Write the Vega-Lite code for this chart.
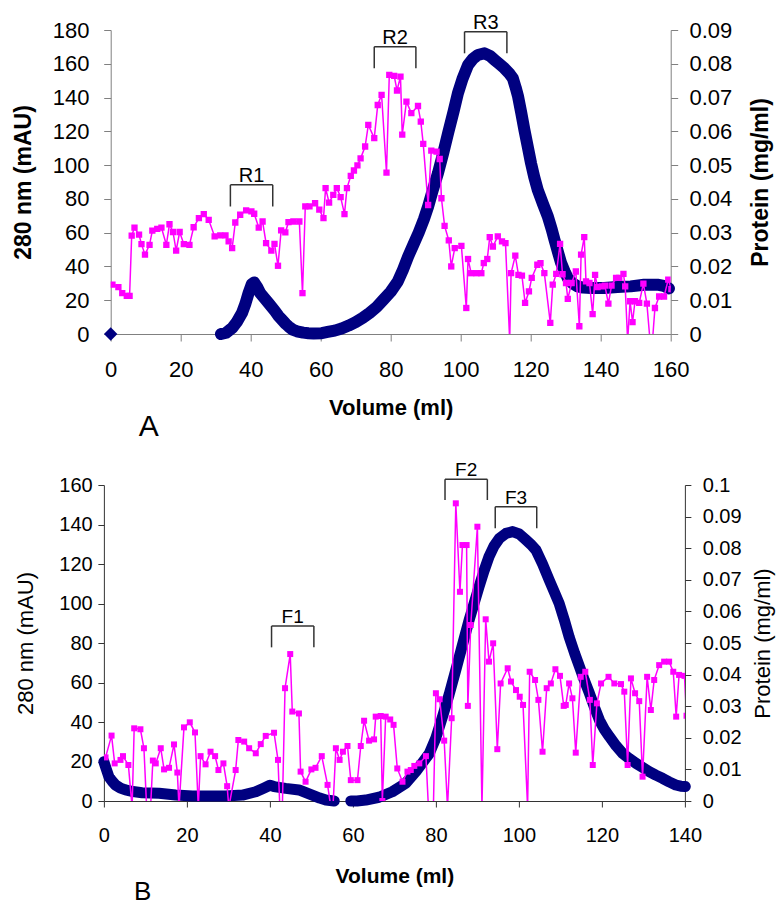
{
"$schema":"https://vega.github.io/schema/vega-lite/v6.json",
"background":"white",
"padding":{"left":12.5,"top":12,"right":0,"bottom":0},
"config":{"view":{"stroke":null},"font":"Liberation Sans","axis":{"labelColor":"#000","titleColor":"#000","labelFont":"Liberation Sans","titleFont":"Liberation Sans","grid":false,"labelOverlap":false}},
"datasets":{
"blueA":[{"volume":31.5,"mau":0},{"volume":33,"mau":0.8},{"volume":34.7,"mau":3.5},{"volume":36,"mau":7},{"volume":37.5,"mau":12.4},{"volume":38.5,"mau":18},{"volume":39.4,"mau":24.3},{"volume":40.3,"mau":29.5},{"volume":41,"mau":30.5},{"volume":41.8,"mau":28},{"volume":42.7,"mau":24.3},{"volume":44,"mau":21},{"volume":45.1,"mau":18.3},{"volume":46,"mau":16},{"volume":47,"mau":13.4},{"volume":48,"mau":10.5},{"volume":48.9,"mau":8.5},{"volume":50,"mau":6},{"volume":50.8,"mau":4.5},{"volume":52,"mau":2.6},{"volume":53.2,"mau":1.6},{"volume":55,"mau":0.8},{"volume":56.5,"mau":0.5},{"volume":58,"mau":0.3},{"volume":60.3,"mau":0.5},{"volume":62,"mau":1.2},{"volume":64,"mau":2},{"volume":66,"mau":3.3},{"volume":68,"mau":5},{"volume":70,"mau":7},{"volume":72,"mau":9.5},{"volume":74,"mau":12.5},{"volume":76,"mau":16},{"volume":78,"mau":20.5},{"volume":80,"mau":25},{"volume":82,"mau":31},{"volume":83.5,"mau":38},{"volume":85,"mau":46},{"volume":86.5,"mau":53},{"volume":88,"mau":60},{"volume":89.5,"mau":68},{"volume":90.7,"mau":75.5},{"volume":92,"mau":85},{"volume":93.5,"mau":95.2},{"volume":95,"mau":107},{"volume":96.4,"mau":118.9},{"volume":98,"mau":132},{"volume":99.2,"mau":142.5},{"volume":100.5,"mau":151},{"volume":102.1,"mau":159.3},{"volume":103.5,"mau":163},{"volume":104.9,"mau":165.2},{"volume":106.8,"mau":166.2},{"volume":108.5,"mau":164.5},{"volume":109.7,"mau":162.3},{"volume":111,"mau":160},{"volume":112.5,"mau":157.3},{"volume":114,"mau":154},{"volume":114.9,"mau":151.4},{"volume":115.7,"mau":146},{"volume":116.4,"mau":140.6},{"volume":117.3,"mau":131},{"volume":118.2,"mau":120.9},{"volume":119.2,"mau":110.5},{"volume":120.1,"mau":101.1},{"volume":121,"mau":93},{"volume":122,"mau":85.4},{"volume":123.5,"mau":77},{"volume":124.9,"mau":69.6},{"volume":126,"mau":62},{"volume":126.8,"mau":55.8},{"volume":128,"mau":47},{"volume":128.7,"mau":42},{"volume":129.7,"mau":37},{"volume":130.6,"mau":33.1},{"volume":132,"mau":30},{"volume":133.4,"mau":28.2},{"volume":135,"mau":27.5},{"volume":137.2,"mau":27.2},{"volume":141,"mau":27.2},{"volume":144.8,"mau":27.8},{"volume":148.6,"mau":28.2},{"volume":152.4,"mau":29.2},{"volume":156.2,"mau":29.2},{"volume":158,"mau":28.5},{"volume":159.5,"mau":27}],
"blueAdot":[{"volume":0,"mau":0}],
"magA":[{"volume":0.5,"protein":0.0146},{"volume":2.2,"protein":0.0139},{"volume":3.3,"protein":0.0121},{"volume":4.6,"protein":0.0113},{"volume":5.4,"protein":0.0113},{"volume":6.0,"protein":0.0291},{"volume":6.8,"protein":0.0315},{"volume":8.1,"protein":0.0294},{"volume":8.8,"protein":0.0266},{"volume":9.8,"protein":0.0235},{"volume":11.1,"protein":0.0264},{"volume":11.9,"protein":0.0306},{"volume":13.3,"protein":0.0311},{"volume":14.5,"protein":0.0315},{"volume":15.9,"protein":0.0264},{"volume":16.8,"protein":0.0325},{"volume":17.8,"protein":0.0302},{"volume":18.7,"protein":0.0247},{"volume":19.7,"protein":0.0302},{"volume":20.9,"protein":0.0266},{"volume":22.5,"protein":0.0264},{"volume":23.7,"protein":0.0316},{"volume":25.2,"protein":0.0343},{"volume":26.6,"protein":0.0355},{"volume":28.0,"protein":0.0338},{"volume":29.7,"protein":0.0289},{"volume":31.3,"protein":0.0292},{"volume":32.8,"protein":0.0292},{"volume":33.7,"protein":0.0274},{"volume":34.7,"protein":0.0254},{"volume":35.6,"protein":0.0330},{"volume":37.0,"protein":0.0353},{"volume":38.7,"protein":0.0366},{"volume":40.2,"protein":0.0363},{"volume":41.0,"protein":0.0356},{"volume":42.3,"protein":0.0315},{"volume":43.4,"protein":0.0333},{"volume":44.4,"protein":0.0269},{"volume":45.9,"protein":0.0247},{"volume":46.8,"protein":0.0267},{"volume":47.8,"protein":0.0202},{"volume":48.7,"protein":0.0307},{"volume":49.9,"protein":0.0301},{"volume":50.8,"protein":0.0331},{"volume":52.2,"protein":0.0333},{"volume":53.9,"protein":0.0333},{"volume":54.8,"protein":0.0121},{"volume":55.6,"protein":0.0378},{"volume":56.8,"protein":0.0378},{"volume":58.4,"protein":0.0387},{"volume":59.6,"protein":0.0368},{"volume":60.8,"protein":0.0343},{"volume":61.4,"protein":0.0432},{"volume":62.4,"protein":0.0389},{"volume":63.6,"protein":0.0412},{"volume":64.6,"protein":0.0432},{"volume":65.7,"protein":0.0405},{"volume":66.8,"protein":0.0355},{"volume":67.5,"protein":0.0432},{"volume":68.6,"protein":0.0468},{"volume":69.5,"protein":0.0484},{"volume":70.5,"protein":0.0499},{"volume":71.4,"protein":0.0520},{"volume":72.7,"protein":0.0555},{"volume":73.6,"protein":0.0619},{"volume":75.3,"protein":0.0580},{"volume":76.3,"protein":0.0678},{"volume":77.4,"protein":0.0708},{"volume":78.8,"protein":0.0478},{"volume":79.6,"protein":0.0767},{"volume":81.0,"protein":0.0764},{"volume":81.8,"protein":0.0721},{"volume":82.8,"protein":0.0762},{"volume":83.3,"protein":0.0590},{"volume":84.5,"protein":0.0688},{"volume":85.9,"protein":0.0654},{"volume":87.8,"protein":0.0675},{"volume":88.6,"protein":0.0629},{"volume":89.3,"protein":0.0563},{"volume":90.7,"protein":0.0382},{"volume":91.6,"protein":0.0543},{"volume":93.1,"protein":0.0540},{"volume":94.0,"protein":0.0518},{"volume":94.5,"protein":0.0402},{"volume":95.4,"protein":0.0320},{"volume":96.6,"protein":0.0277},{"volume":97.3,"protein":0.0200},{"volume":98.3,"protein":0.0254},{"volume":100.2,"protein":0.0261},{"volume":101.6,"protein":0.0077},{"volume":102.1,"protein":0.0222},{"volume":103.0,"protein":0.0180},{"volume":104.5,"protein":0.0180},{"volume":105.9,"protein":0.0180},{"volume":106.6,"protein":0.0210},{"volume":107.6,"protein":0.0222},{"volume":108.3,"protein":0.0287},{"volume":109.2,"protein":0.0259},{"volume":110.6,"protein":0.0289},{"volume":111.8,"protein":0.0274},{"volume":112.8,"protein":0.0269},{"volume":114.0,"protein":-0.002},{"volume":114.4,"protein":0.0180},{"volume":115.6,"protein":0.0232},{"volume":116.5,"protein":0.0175},{"volume":117.5,"protein":0.0173},{"volume":118.4,"protein":0.0092},{"volume":119.5,"protein":0.0126},{"volume":120.3,"protein":0.0166},{"volume":121.9,"protein":0.0205},{"volume":122.8,"protein":0.0210},{"volume":123.9,"protein":0.0180},{"volume":125.6,"protein":0.0033},{"volume":126.3,"protein":0.0146},{"volume":127.3,"protein":0.0178},{"volume":128.4,"protein":0.0267},{"volume":129.1,"protein":0.0177},{"volume":130.1,"protein":0.0151},{"volume":130.6,"protein":0.0104},{"volume":131.7,"protein":0.0151},{"volume":132.9,"protein":0.0185},{"volume":133.9,"protein":0.0023},{"volume":134.4,"protein":0.0235},{"volume":135.3,"protein":0.0287},{"volume":135.8,"protein":0.0156},{"volume":136.8,"protein":0.0151},{"volume":137.7,"protein":0.0059},{"volume":138.4,"protein":0.0175},{"volume":139.1,"protein":0.0139},{"volume":140.3,"protein":0.0141},{"volume":141.2,"protein":0.0143},{"volume":142.2,"protein":0.0090},{"volume":143.1,"protein":0.0143},{"volume":144.4,"protein":0.0166},{"volume":145.3,"protein":0.0166},{"volume":146.5,"protein":0.0178},{"volume":147.0,"protein":0.0141},{"volume":147.7,"protein":-0.002},{"volume":148.4,"protein":0.0097},{"volume":149.1,"protein":0.0035},{"volume":149.8,"protein":0.0097},{"volume":151.0,"protein":0.0092},{"volume":152.2,"protein":0.0149},{"volume":153.2,"protein":0.0090},{"volume":154.1,"protein":-0.002},{"volume":154.8,"protein":-0.002},{"volume":155.5,"protein":0.0077},{"volume":156.7,"protein":0.0111},{"volume":158.1,"protein":0.0111},{"volume":159.3,"protein":0.0161},{"volume":160.2,"protein":0.0133},{"volume":160.8,"protein":-0.002}],
"bracketsA":[{"label":"R1","x1":34.2,"x2":46.3,"xm":40.25,"y":88.3,"yb":75.5},{"label":"R2","x1":75.3,"x2":87.2,"xm":81.25,"y":170.1,"yb":157.3},{"label":"R3","x1":101.1,"x2":113.2,"xm":107.15,"y":179,"yb":166.2}],
"blueB":[{"seg":"a","volume":0,"mau":19.9},{"seg":"a","volume":0.6,"mau":16},{"seg":"a","volume":1.2,"mau":12.3},{"seg":"a","volume":2,"mau":10},{"seg":"a","volume":2.8,"mau":8.1},{"seg":"a","volume":4,"mau":6.5},{"seg":"a","volume":5.2,"mau":5.6},{"seg":"a","volume":7,"mau":4.8},{"seg":"a","volume":9.2,"mau":4.2},{"seg":"a","volume":13.3,"mau":3.9},{"seg":"a","volume":17.3,"mau":3},{"seg":"a","volume":21.3,"mau":2.5},{"seg":"a","volume":25.3,"mau":2.5},{"seg":"a","volume":29.3,"mau":2.5},{"seg":"a","volume":33.4,"mau":3},{"seg":"a","volume":36.6,"mau":4.7},{"seg":"a","volume":38.5,"mau":6.5},{"seg":"a","volume":40,"mau":8},{"seg":"a","volume":41,"mau":7.3},{"seg":"a","volume":43.8,"mau":6.4},{"seg":"a","volume":47,"mau":5.6},{"seg":"a","volume":50.2,"mau":3},{"seg":"a","volume":52,"mau":1.5},{"seg":"a","volume":53.5,"mau":0.5},{"seg":"a","volume":55.5,"mau":0},{"seg":"b","volume":59.5,"mau":0},{"seg":"b","volume":61,"mau":0},{"seg":"b","volume":63.1,"mau":0.5},{"seg":"b","volume":66.3,"mau":1.9},{"seg":"b","volume":69.5,"mau":4.7},{"seg":"b","volume":72.7,"mau":8.9},{"seg":"b","volume":75.2,"mau":15},{"seg":"b","volume":78.4,"mau":24},{"seg":"b","volume":80,"mau":32},{"seg":"b","volume":81.6,"mau":42.7},{"seg":"b","volume":83.2,"mau":54},{"seg":"b","volume":84.8,"mau":66.3},{"seg":"b","volume":86.4,"mau":79},{"seg":"b","volume":88,"mau":91.6},{"seg":"b","volume":89.2,"mau":100},{"seg":"b","volume":90.4,"mau":108.5},{"seg":"b","volume":91.6,"mau":116.5},{"seg":"b","volume":92.8,"mau":123.7},{"seg":"b","volume":94,"mau":129},{"seg":"b","volume":95.3,"mau":133},{"seg":"b","volume":96.9,"mau":135.5},{"seg":"b","volume":98.5,"mau":136.4},{"seg":"b","volume":100.1,"mau":135.2},{"seg":"b","volume":101.7,"mau":132.2},{"seg":"b","volume":103,"mau":129.7},{"seg":"b","volume":104.1,"mau":127.1},{"seg":"b","volume":105.7,"mau":120},{"seg":"b","volume":107.3,"mau":111.9},{"seg":"b","volume":108.5,"mau":106},{"seg":"b","volume":109.7,"mau":100.1},{"seg":"b","volume":110.9,"mau":92},{"seg":"b","volume":112.1,"mau":83.2},{"seg":"b","volume":113.4,"mau":75},{"seg":"b","volume":114.6,"mau":68},{"seg":"b","volume":115.8,"mau":61},{"seg":"b","volume":117,"mau":54.5},{"seg":"b","volume":118.2,"mau":47.5},{"seg":"b","volume":119.4,"mau":41},{"seg":"b","volume":120.6,"mau":36.3},{"seg":"b","volume":121.8,"mau":32.6},{"seg":"b","volume":123.4,"mau":28},{"seg":"b","volume":125,"mau":24.1},{"seg":"b","volume":126.6,"mau":21.5},{"seg":"b","volume":128.2,"mau":19.1},{"seg":"b","volume":129.8,"mau":17},{"seg":"b","volume":131.4,"mau":14.9},{"seg":"b","volume":133,"mau":13.1},{"seg":"b","volume":134.6,"mau":11.5},{"seg":"b","volume":136.2,"mau":9.7},{"seg":"b","volume":137.8,"mau":8.1},{"seg":"b","volume":139,"mau":7.5},{"seg":"b","volume":140.1,"mau":7.3}],
"magB":[{"volume":0.4,"protein":0.0138},{"volume":1.85,"protein":0.0207},{"volume":2.6,"protein":0.0119},{"volume":4.0,"protein":0.0130},{"volume":4.6,"protein":0.0142},{"volume":5.9,"protein":0.0114},{"volume":6.8,"protein":-0.002},{"volume":7.3,"protein":0.0230},{"volume":8.8,"protein":0.0227},{"volume":9.65,"protein":0.0167},{"volume":10.3,"protein":-0.002},{"volume":11.25,"protein":-0.002},{"volume":11.8,"protein":0.0128},{"volume":12.5,"protein":0.0119},{"volume":13.7,"protein":0.0167},{"volume":14.5,"protein":0.0100},{"volume":15.7,"protein":0.0105},{"volume":16.9,"protein":0.0179},{"volume":17.7,"protein":0.0090},{"volume":18.1,"protein":-0.002},{"volume":19.3,"protein":0.0233},{"volume":20.7,"protein":0.0249},{"volume":21.95,"protein":0.0217},{"volume":22.75,"protein":-0.002},{"volume":23.3,"protein":0.0142},{"volume":24.5,"protein":0.0116},{"volume":25.7,"protein":0.0156},{"volume":26.8,"protein":0.0142},{"volume":27.6,"protein":0.0098},{"volume":28.8,"protein":0.0119},{"volume":29.7,"protein":0.0047},{"volume":30.1,"protein":-0.002},{"volume":31.75,"protein":0.0098},{"volume":32.4,"protein":0.0193},{"volume":33.8,"protein":0.0188},{"volume":35.0,"protein":0.0167},{"volume":36.6,"protein":0.0151},{"volume":37.8,"protein":0.0180},{"volume":39.0,"protein":0.0206},{"volume":41.0,"protein":0.0216},{"volume":41.95,"protein":0.0130},{"volume":42.4,"protein":-0.002},{"volume":43.0,"protein":-0.002},{"volume":43.65,"protein":0.0357},{"volume":44.9,"protein":0.0465},{"volume":45.4,"protein":0.0283},{"volume":47.0,"protein":0.0277},{"volume":47.4,"protein":0.0093},{"volume":48.6,"protein":0.0061},{"volume":50.0,"protein":0.0100},{"volume":51.0,"protein":0.0105},{"volume":52.5,"protein":0.0142},{"volume":53.9,"protein":0.0051},{"volume":54.7,"protein":-0.002},{"volume":55.2,"protein":-0.002},{"volume":55.9,"protein":0.0167},{"volume":56.8,"protein":0.0130},{"volume":57.6,"protein":0.0156},{"volume":58.7,"protein":0.0174},{"volume":59.5,"protein":0.0066},{"volume":61.1,"protein":0.0066},{"volume":61.9,"protein":0.0174},{"volume":62.7,"protein":0.0254},{"volume":63.9,"protein":0.0191},{"volume":65.1,"protein":0.0195},{"volume":65.5,"protein":0.0267},{"volume":66.7,"protein":0.0269},{"volume":67.1,"protein":0},{"volume":67.9,"protein":0.0267},{"volume":69.0,"protein":0.0258},{"volume":69.8,"protein":0.0241},{"volume":70.7,"protein":0.0103},{"volume":71.95,"protein":0.0061},{"volume":73.15,"protein":0.0093},{"volume":73.95,"protein":0.0098},{"volume":74.8,"protein":0.0111},{"volume":76.0,"protein":0.0119},{"volume":77.6,"protein":0.0142},{"volume":78.2,"protein":-0.002},{"volume":79.4,"protein":-0.002},{"volume":80.0,"protein":0.0341},{"volume":80.9,"protein":0.0322},{"volume":82.0,"protein":0.0191},{"volume":82.8,"protein":-0.002},{"volume":83.8,"protein":0.0262},{"volume":84.8,"protein":0.0942},{"volume":85.8,"protein":0.0662},{"volume":86.4,"protein":0.0810},{"volume":87.4,"protein":0.0810},{"volume":87.7,"protein":0.0301},{"volume":88.4,"protein":0.0557},{"volume":90.0,"protein":0.0868},{"volume":91.1,"protein":-0.002},{"volume":92.0,"protein":0.0575},{"volume":92.8,"protein":0.0441},{"volume":93.8,"protein":0.0499},{"volume":94.8,"protein":0.0164},{"volume":95.6,"protein":0.0372},{"volume":97.3,"protein":0.0420},{"volume":98.1,"protein":0.0378},{"volume":99.3,"protein":0.0351},{"volume":100.2,"protein":0.0330},{"volume":101.0,"protein":0.0304},{"volume":102.1,"protein":-0.002},{"volume":102.6,"protein":0.0409},{"volume":103.9,"protein":0.0383},{"volume":104.7,"protein":0.0320},{"volume":105.7,"protein":0.0156},{"volume":106.7,"protein":0.0357},{"volume":107.7,"protein":0.0372},{"volume":108.8,"protein":0.0417},{"volume":109.9,"protein":0.0396},{"volume":110.8,"protein":0.0301},{"volume":111.3,"protein":0.0304},{"volume":112.1,"protein":0.0372},{"volume":112.9,"protein":0.0325},{"volume":113.7,"protein":0.0153},{"volume":114.9,"protein":0.0393},{"volume":116.0,"protein":0.0409},{"volume":117.1,"protein":0.0320},{"volume":117.8,"protein":0.0114},{"volume":118.8,"protein":0.0309},{"volume":119.8,"protein":0.0372},{"volume":121.6,"protein":0.0393},{"volume":123.0,"protein":0.0372},{"volume":124.6,"protein":0.0370},{"volume":125.4,"protein":0.0346},{"volume":126.2,"protein":0.0114},{"volume":127.0,"protein":0.0388},{"volume":128.0,"protein":0.0341},{"volume":129.0,"protein":0.0316},{"volume":129.8,"protein":0.0077},{"volume":130.9,"protein":0.0393},{"volume":131.8,"protein":0.0288},{"volume":132.6,"protein":0.0383},{"volume":133.8,"protein":0.0430},{"volume":135.0,"protein":0.0441},{"volume":136.2,"protein":0.0441},{"volume":137.2,"protein":0.0409},{"volume":137.9,"protein":0.0267},{"volume":138.6,"protein":0.0399},{"volume":139.9,"protein":0.0396},{"volume":140.4,"protein":0.027}],
"bracketsB":[{"label":"F1","x1":40.4,"x2":50.6,"xm":45.5,"y":88.6,"yb":77.8},{"label":"F2","x1":82.2,"x2":92.4,"xm":87.3,"y":162.9,"yb":152.4},{"label":"F3","x1":94.3,"x2":104.3,"xm":99.3,"y":149,"yb":138.1}]
},
"vconcat":[
{
"width":560,"height":304,
"title":{"text":"A","orient":"bottom","anchor":"start","frame":"group","fontSize":30,"fontWeight":"normal","font":"Liberation Sans","color":"#000","dx":28,"offset":-6},
"layer":[
{"data":{"name":"blueA"},"mark":{"type":"line","color":"#000080","strokeWidth":12,"strokeCap":"round","strokeJoin":"round"},
"encoding":{"x":{"field":"volume","type":"quantitative","scale":{"domain":[0,160],"nice":false,"zero":false},"axis":{"title":"Volume (ml)","values":[0,20,40,60,80,100,120,140,160],"labelOverlap":false,"domainColor":"#808080","tickColor":"#808080","tickSize":7,"labelFontSize":22,"labelPadding":18.5,"labelFlush":false,"titleFontSize":22,"titleFontWeight":"bold","titlePadding":16.5}},
"y":{"field":"mau","type":"quantitative","scale":{"domain":[0,180],"nice":false},"axis":{"title":"280 nm (mAU)","values":[0,20,40,60,80,100,120,140,160,180],"labelOverlap":false,"domainColor":"#808080","tickColor":"#808080","tickSize":7,"labelFontSize":22,"labelPadding":14.7,"titleFontSize":23,"titleFontWeight":"bold","titlePadding":16.5}}}},
{"data":{"name":"blueAdot"},"mark":{"type":"point","shape":"diamond","filled":true,"color":"#000080","size":180,"opacity":1},
"encoding":{"x":{"field":"volume","type":"quantitative"},"y":{"field":"mau","type":"quantitative","scale":{"domain":[0,180],"nice":false},"axis":null}}},
{"data":{"name":"bracketsA"},"mark":{"type":"rule","color":"#333","strokeWidth":1.5},
"encoding":{"x":{"field":"x1","type":"quantitative"},"x2":{"field":"x2"},"y":{"field":"y","type":"quantitative","scale":{"domain":[0,180],"nice":false},"axis":null}}},
{"data":{"name":"bracketsA"},"mark":{"type":"rule","color":"#333","strokeWidth":1.5},
"encoding":{"x":{"field":"x1","type":"quantitative"},"y":{"field":"y","type":"quantitative","scale":{"domain":[0,180],"nice":false},"axis":null},"y2":{"field":"yb"}}},
{"data":{"name":"bracketsA"},"mark":{"type":"rule","color":"#333","strokeWidth":1.5},
"encoding":{"x":{"field":"x2","type":"quantitative"},"y":{"field":"y","type":"quantitative","scale":{"domain":[0,180],"nice":false},"axis":null},"y2":{"field":"yb"}}},
{"data":{"name":"bracketsA"},"mark":{"type":"text","fontSize":20,"color":"#000","align":"center","baseline":"alphabetic","dy":-3,"font":"Liberation Sans"},
"encoding":{"x":{"field":"xm","type":"quantitative"},"y":{"field":"y","type":"quantitative","scale":{"domain":[0,180],"nice":false},"axis":null},"text":{"field":"label"}}},
{"data":{"name":"magA"},"mark":{"type":"line","color":"#FF00FF","strokeWidth":1.5,"clip":true,"point":{"shape":"square","filled":true,"size":40,"color":"#FF00FF","opacity":1}},
"encoding":{"x":{"field":"volume","type":"quantitative"},"y":{"field":"protein","type":"quantitative","scale":{"domain":[0,0.09],"nice":false,"zero":false},"axis":{"orient":"right","title":"Protein (mg/ml)","values":[0,0.01,0.02,0.03,0.04,0.05,0.06,0.07,0.08,0.09],"labelOverlap":false,"format":"~g","domainColor":"#808080","tickColor":"#808080","tickSize":7,"labelFontSize":22,"labelPadding":11.3,"titleFontSize":23,"titleFontWeight":"bold","titleAngle":-90,"titleBaseline":"top","titlePadding":17.5}}}}
],
"resolve":{"scale":{"y":"independent"}}
},
{
"width":581,"height":316,
"title":{"text":"B","orient":"bottom","anchor":"start","frame":"group","fontSize":26,"fontWeight":"normal","font":"Liberation Sans","color":"#000","dx":30,"offset":-7},
"layer":[
{"data":{"name":"blueB"},"mark":{"type":"line","color":"#000080","strokeWidth":11,"strokeCap":"round","strokeJoin":"round"},
"encoding":{"detail":{"field":"seg"},"x":{"field":"volume","type":"quantitative","scale":{"domain":[0,140],"nice":false,"zero":false},"axis":{"title":"Volume (ml)","values":[0,20,40,60,80,100,120,140],"labelOverlap":false,"domainColor":"#333","tickColor":"#333","tickSize":6,"labelFontSize":20,"labelPadding":18,"labelFlush":false,"titleFontSize":21,"titleFontWeight":"bold","titlePadding":20}},
"y":{"field":"mau","type":"quantitative","scale":{"domain":[0,160],"nice":false},"axis":{"title":"280 nm (mAU)","values":[0,20,40,60,80,100,120,140,160],"labelOverlap":false,"domainColor":"#333","tickColor":"#333","tickSize":6,"labelFontSize":20,"labelPadding":5.7,"titleFontSize":22,"titleFontWeight":"normal","titlePadding":21}}}},
{"data":{"name":"bracketsB"},"mark":{"type":"rule","color":"#333","strokeWidth":1.5},
"encoding":{"x":{"field":"x1","type":"quantitative"},"x2":{"field":"x2"},"y":{"field":"y","type":"quantitative","scale":{"domain":[0,160],"nice":false},"axis":null}}},
{"data":{"name":"bracketsB"},"mark":{"type":"rule","color":"#333","strokeWidth":1.5},
"encoding":{"x":{"field":"x1","type":"quantitative"},"y":{"field":"y","type":"quantitative","scale":{"domain":[0,160],"nice":false},"axis":null},"y2":{"field":"yb"}}},
{"data":{"name":"bracketsB"},"mark":{"type":"rule","color":"#333","strokeWidth":1.5},
"encoding":{"x":{"field":"x2","type":"quantitative"},"y":{"field":"y","type":"quantitative","scale":{"domain":[0,160],"nice":false},"axis":null},"y2":{"field":"yb"}}},
{"data":{"name":"bracketsB"},"mark":{"type":"text","fontSize":19,"color":"#000","align":"center","baseline":"alphabetic","dy":-3,"font":"Liberation Sans"},
"encoding":{"x":{"field":"xm","type":"quantitative"},"y":{"field":"y","type":"quantitative","scale":{"domain":[0,160],"nice":false},"axis":null},"text":{"field":"label"}}},
{"data":{"name":"magB"},"mark":{"type":"line","color":"#FF00FF","strokeWidth":1.5,"clip":true,"point":{"shape":"square","filled":true,"size":36,"color":"#FF00FF","opacity":1}},
"encoding":{"x":{"field":"volume","type":"quantitative"},"y":{"field":"protein","type":"quantitative","scale":{"domain":[0,0.1],"nice":false,"zero":false},"axis":{"orient":"right","title":["Protein (mg/ml)"," "],"titleLineHeight":6,"values":[0,0.01,0.02,0.03,0.04,0.05,0.06,0.07,0.08,0.09,0.1],"labelOverlap":false,"format":"~g","domainColor":"#333","tickColor":"#333","tickSize":6,"labelFontSize":20,"labelPadding":11.3,"titleFontSize":22,"titleFontWeight":"normal","titleAngle":-90,"titleBaseline":"top","titlePadding":5}}}}
],
"resolve":{"scale":{"y":"independent"}}
}
],
"center":true,
"spacing":19
}
